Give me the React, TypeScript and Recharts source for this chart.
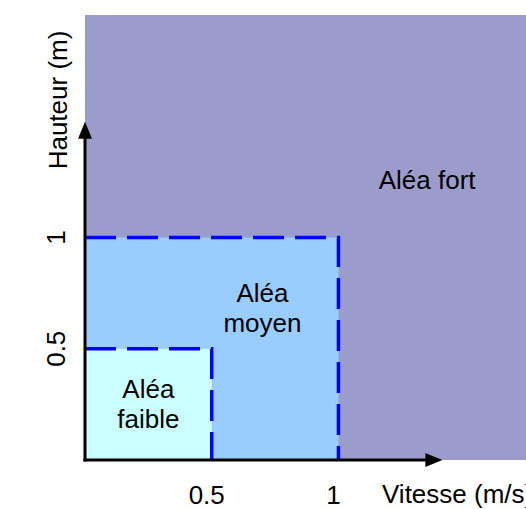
import React from "react";
import {
  ComposedChart,
  XAxis,
  YAxis,
  ReferenceArea,
  ReferenceLine,
  Line,
  Scatter,
  Label,
} from "recharts";

const W = 526;
const H = 509;
const FONT = '"Liberation Sans", Arial, Helvetica, sans-serif';
const FS = 26;

// ---- data ----
const xDomain = [0, 1.74];
const yDomain = [0, 2];
const xTicks = [0.5, 1];
const yTicks = [0.5, 1];
const xAxisTitle = "Vitesse (m/s)";
const yAxisTitle = "Hauteur (m)";

const zoneMaxSpeed = [1.74, 1, 0.5];
const zoneMaxHeight = [2, 1, 0.5];
const zoneColors = ["#9C9CCC", "#99CCFF", "#CCFFFF"];

const zoneLabelLines = [["Aléa fort"], ["Aléa", "moyen"], ["Aléa", "faible"]];
const zoneLabelX = [1.35, 0.7, 0.25];
const zoneLabelY = [1.258, 0.683, 0.252];

const moyenBorder = [
  { x: 0, y: 1 },
  { x: 1, y: 1 },
  { x: 1, y: 0 },
];
const faibleBorder = [
  { x: 0, y: 0.5 },
  { x: 0.5, y: 0.5 },
  { x: 0.5, y: 0 },
];

const xArrowEnd = 1.41;
const yArrowEnd = 1.52;

const labelData = zoneLabelX.map((x, i) => ({ x, y: zoneLabelY[i], idx: i }));

// ---- renderers ----
const ArrowShape = (p: any) => {
  const { x1, y1, x2, y2 } = p;
  const L = 17;
  const hw = 7;
  const horiz = Math.abs(y2 - y1) < Math.abs(x2 - x1);
  if (horiz) {
    return (
      <g>
        <line x1={x1 - 1.5} y1={y1} x2={x2 - L + 2} y2={y2} stroke="#000" strokeWidth={3} />
        <polygon points={`${x2},${y2} ${x2 - L},${y2 - hw} ${x2 - L},${y2 + hw}`} fill="#000" />
      </g>
    );
  }
  return (
    <g>
      <line x1={x1} y1={y1 + 1.5} x2={x2} y2={y2 + L - 2} stroke="#000" strokeWidth={3} />
      <polygon points={`${x2},${y2} ${x2 - hw},${y2 + L} ${x2 + hw},${y2 + L}`} fill="#000" />
    </g>
  );
};

const XTick = (p: any) => (
  <text x={p.x - 5} y={p.y + 44} textAnchor="middle" fontFamily={FONT} fontSize={FS} fill="#000">
    {String(p.payload.value)}
  </text>
);

const YTick = (p: any) => {
  const bx = p.x - 20;
  const cy = p.y;
  return (
    <text
      x={bx}
      y={cy}
      transform={`rotate(-90, ${bx}, ${cy})`}
      textAnchor="middle"
      fontFamily={FONT}
      fontSize={FS}
      fill="#000"
    >
      {String(p.payload.value)}
    </text>
  );
};

const ZoneLabel = (p: any) => {
  const { cx, cy } = p;
  const idx = p.payload?.idx ?? p.idx ?? p.index ?? 0;
  const lines = zoneLabelLines[idx];
  const n = lines.length;
  return (
    <g>
      {lines.map((t, i) => (
        <text
          key={i}
          x={cx}
          y={cy + 9 + (i - (n - 1) / 2) * 30}
          textAnchor="middle"
          fontFamily={FONT}
          fontSize={FS}
          fill="#000"
        >
          {t}
        </text>
      ))}
    </g>
  );
};

const XTitle = (p: any) => {
  const vb = p.viewBox || { x: 85, y: 460 };
  return (
    <text x={vb.x + 297} y={vb.y + 43} fontFamily={FONT} fontSize={FS} fill="#000">
      {xAxisTitle}
    </text>
  );
};

const YTitle = (p: any) => {
  const vb = p.viewBox || { x: 0, y: 15, width: 85 };
  const bx = vb.x + vb.width - 18;
  const cy = vb.y + 85;
  return (
    <text
      x={bx}
      y={cy}
      transform={`rotate(-90, ${bx}, ${cy})`}
      textAnchor="middle"
      fontFamily={FONT}
      fontSize={FS}
      fill="#000"
    >
      {yAxisTitle}
    </text>
  );
};

export default function App() {
  return (
    <div
      style={{
        position: "absolute",
        left: 0,
        top: 0,
        width: W,
        height: H,
        overflow: "hidden",
        background: "#fff",
      }}
    >
      <ComposedChart
        width={W}
        height={H}
        margin={{ top: 15, right: 0, bottom: 0, left: 0 }}
        style={{ fontFamily: FONT }}
      >
        <XAxis
          type="number"
          dataKey="x"
          domain={xDomain}
          ticks={xTicks}
          height={49}
          axisLine={false}
          tickLine={false}
          tickSize={0}
          tickMargin={0}
          tick={<XTick />}
          allowDataOverflow
        >
          <Label content={<XTitle />} />
        </XAxis>
        <YAxis
          type="number"
          dataKey="y"
          domain={yDomain}
          ticks={yTicks}
          width={85}
          axisLine={false}
          tickLine={false}
          tickSize={0}
          tickMargin={0}
          tick={<YTick />}
          allowDataOverflow
        >
          <Label content={<YTitle />} />
        </YAxis>

        {zoneMaxSpeed.map((xs, i) => (
          <ReferenceArea
            key={i}
            x1={0}
            x2={xs}
            y1={0}
            y2={zoneMaxHeight[i]}
            fill={zoneColors[i]}
            fillOpacity={1}
            stroke="none"
          />
        ))}

        <Line
          data={moyenBorder}
          dataKey="y"
          stroke="#0000FF"
          strokeWidth={3.5}
          strokeDasharray="31 11"
          dot={false}
          activeDot={false}
          isAnimationActive={false}
          type="linear"
        />
        <Line
          data={faibleBorder}
          dataKey="y"
          stroke="#0000FF"
          strokeWidth={3.5}
          strokeDasharray="31 11"
          dot={false}
          activeDot={false}
          isAnimationActive={false}
          type="linear"
        />

        <ReferenceLine
          segment={[
            { x: 0, y: 0 },
            { x: xArrowEnd, y: 0 },
          ]}
          shape={ArrowShape}
          ifOverflow="visible"
        />
        <ReferenceLine
          segment={[
            { x: 0, y: 0 },
            { x: 0, y: yArrowEnd },
          ]}
          shape={ArrowShape}
          ifOverflow="visible"
        />

        <Scatter data={labelData} dataKey="y" shape={ZoneLabel} isAnimationActive={false} />
      </ComposedChart>
    </div>
  );
}
